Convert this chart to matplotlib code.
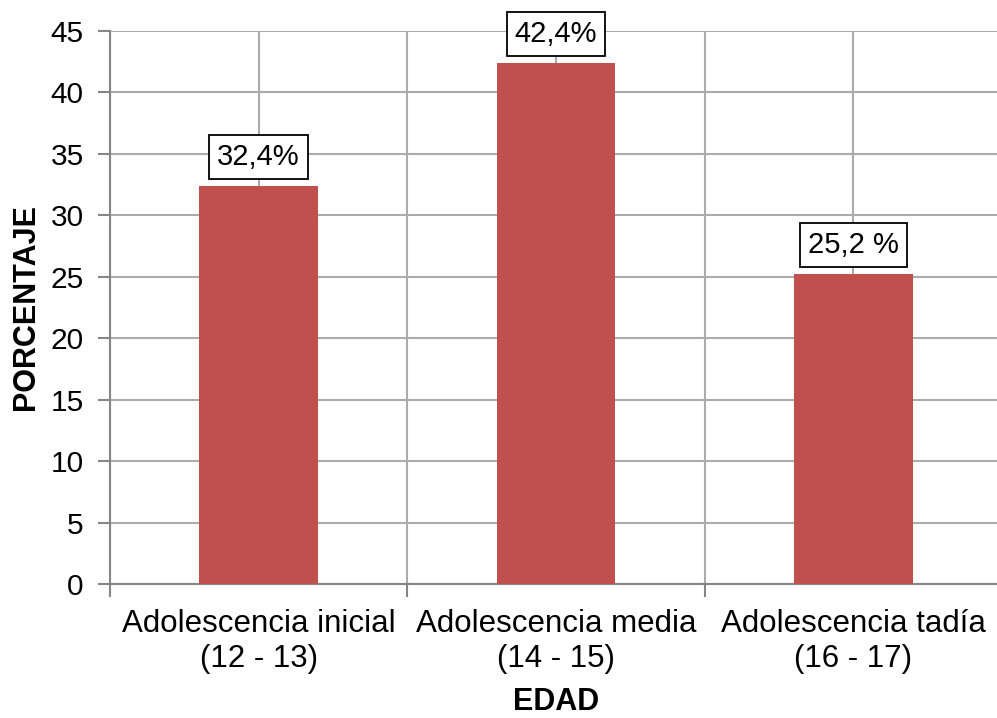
import matplotlib.pyplot as plt
import numpy as np

plt.rcParams['font.family'] = ['Liberation Sans', 'DejaVu Sans']

# datos
categorias = ['Adolescencia inicial\n(12 - 13)', 'Adolescencia media\n(14 - 15)', 'Adolescencia tadía\n(16 - 17)']
porcentajes = [32.4, 42.4, 25.2]
etiquetas = ['32,4%', '42,4%', '25,2 %']
y_ticks = [0, 5, 10, 15, 20, 25, 30, 35, 40, 45]

fig = plt.figure(figsize=(9.97, 7.18), dpi=100)
ax = fig.add_axes([110 / 997, 1 - 584 / 718, 892 / 997, 553 / 718])

x = np.arange(len(categorias))
ax.bar(x, porcentajes, width=0.4, color='#C0504D', zorder=3)

for xi, v, t in zip(x, porcentajes, etiquetas):
    ax.annotate(t, (xi, v), xytext=(0, 21), textcoords='offset points',
                ha='center', va='center', fontsize=21, zorder=4,
                bbox=dict(boxstyle='square,pad=0.28', fc='white', ec='black', lw=1.3))

ax.set_xlim(-0.5, 2.5)
ax.set_ylim(0, 45)
ax.set_yticks(y_ticks)
ax.set_xticks(x)
ax.set_xticklabels(categorias, fontsize=22.5, linespacing=1.22)
ax.set_xticks(np.arange(-0.5, 3, 1), minor=True)
ax.tick_params(axis='x', which='major', length=0, pad=18)
ax.tick_params(axis='x', which='minor', length=9, width=1.5, color='#868686', direction='out')
ax.tick_params(axis='y', labelsize=21.5, length=9, width=1.5, color='#868686', pad=10)

ax.grid(True, which='both', color='#ABABAB', lw=1.5, zorder=0)
for s in ['top', 'right']:
    ax.spines[s].set_visible(False)
for s in ['left', 'bottom']:
    ax.spines[s].set_color('#868686')
    ax.spines[s].set_linewidth(1.5)

ax.set_ylabel('PORCENTAJE', fontsize=22, fontweight='bold', labelpad=7)
ax.set_xlabel('EDAD', fontsize=22, fontweight='bold', labelpad=9)

plt.savefig('out.png', dpi=100)
